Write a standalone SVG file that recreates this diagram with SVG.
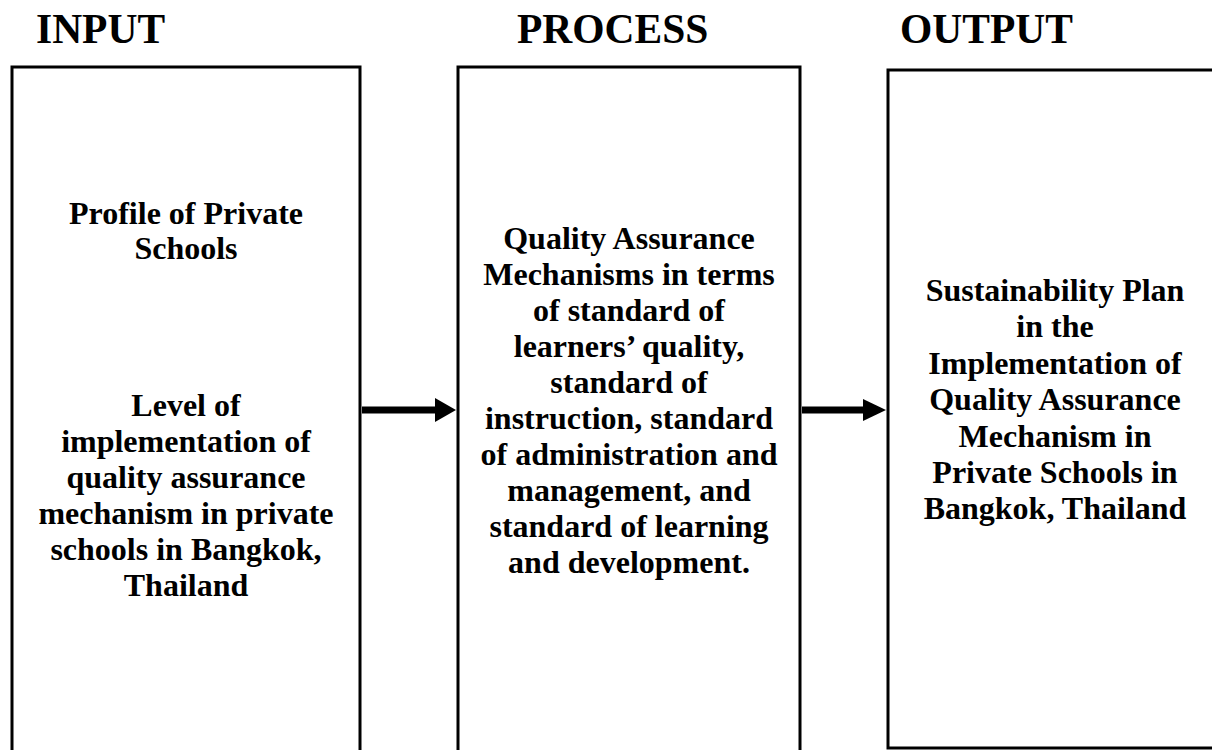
<svg xmlns="http://www.w3.org/2000/svg" width="1212" height="750" viewBox="0 0 1212 750">
<style>
.box{fill:#fff;stroke:#000;stroke-width:3}
.h{font-family:"Liberation Serif","Times New Roman",serif;font-weight:bold;font-size:41.5px;fill:#000}
.t{font-family:"Liberation Serif","Times New Roman",serif;font-weight:bold;font-size:32px;fill:#000;text-anchor:middle}
.shaft{stroke:#000;stroke-width:7;fill:none}
.head{fill:#000}
</style>
<rect width="1212" height="750" fill="#fff"/>
<g id="headings">
<text class="h" x="36" y="43">INPUT</text>
<text class="h" x="517" y="43">PROCESS</text>
<text class="h" x="900" y="43">OUTPUT</text>
</g>
<g id="input">
<rect class="box" x="12" y="67" width="348" height="700"/>
<text class="t" x="186" y="224">Profile of Private</text>
<text class="t" x="186" y="259">Schools</text>
<text class="t" x="186" y="416">Level of</text>
<text class="t" x="186" y="452">implementation of</text>
<text class="t" x="186" y="488">quality assurance</text>
<text class="t" x="186" y="524">mechanism in private</text>
<text class="t" x="186" y="560">schools in Bangkok,</text>
<text class="t" x="186" y="596">Thailand</text>
</g>
<g id="process">
<rect class="box" x="458" y="67" width="342" height="700"/>
<text class="t" x="629" y="249">Quality Assurance</text>
<text class="t" x="629" y="285">Mechanisms in terms</text>
<text class="t" x="629" y="321">of standard of</text>
<text class="t" x="629" y="357">learners’ quality,</text>
<text class="t" x="629" y="393">standard of</text>
<text class="t" x="629" y="429">instruction, standard</text>
<text class="t" x="629" y="465">of administration and</text>
<text class="t" x="629" y="501">management, and</text>
<text class="t" x="629" y="537">standard of learning</text>
<text class="t" x="629" y="573">and development.</text>
</g>
<g id="output">
<rect class="box" x="888" y="70" width="340" height="678"/>
<text class="t" x="1055" y="301">Sustainability Plan</text>
<text class="t" x="1055" y="337.4">in the</text>
<text class="t" x="1055" y="373.8">Implementation of</text>
<text class="t" x="1055" y="410.2">Quality Assurance</text>
<text class="t" x="1055" y="446.6">Mechanism in</text>
<text class="t" x="1055" y="483">Private Schools in</text>
<text class="t" x="1055" y="519.4">Bangkok, Thailand</text>
</g>
<g id="connectors">
<line class="shaft" x1="362" y1="410" x2="437" y2="410"/>
<polygon class="head" points="435,398 456,410 435,422"/>
<line class="shaft" x1="802" y1="410" x2="865" y2="410"/>
<polygon class="head" points="863,399 886,410 863,421"/>
</g>
</svg>
